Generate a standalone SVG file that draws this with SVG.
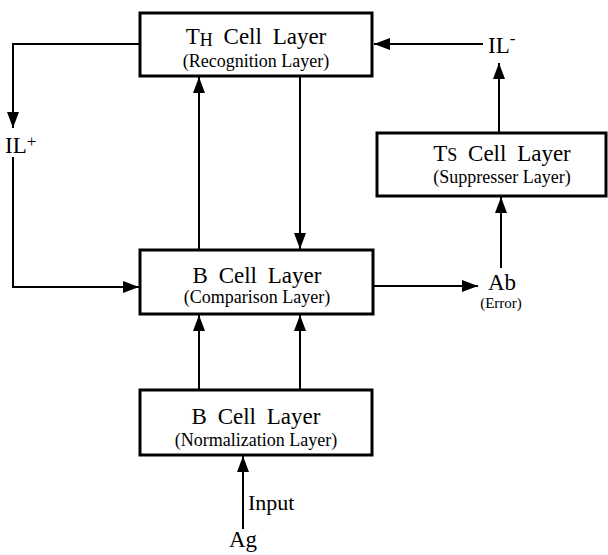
<svg xmlns="http://www.w3.org/2000/svg" width="608" height="555" viewBox="0 0 608 555">
<style>
.box{fill:#fff;stroke:#000;stroke-width:3}
.t{font-family:"Liberation Serif","Times New Roman",serif;fill:#000}
.title{font-size:23px;text-anchor:middle;word-spacing:5px}
.sub{font-size:18px;text-anchor:middle}
.lbl{font-size:23px}
.conn{fill:none;stroke:#000;stroke-width:2}
</style>
<defs>
<marker id="arr" markerUnits="userSpaceOnUse" markerWidth="17" markerHeight="13" refX="16" refY="6.5" orient="auto">
<path d="M0,0.5 L16,6.5 L0,12.5 z" fill="#000"/>
</marker>
</defs>
<rect width="608" height="555" fill="#fff"/>
<g id="connectors">
<path class="conn" d="M140,44 H13 V128" marker-end="url(#arr)"/>
<path class="conn" d="M13,157 V287 H139" marker-end="url(#arr)"/>
<path class="conn" d="M199,250 V77" marker-end="url(#arr)"/>
<path class="conn" d="M300,76 V249" marker-end="url(#arr)"/>
<path class="conn" d="M199,390 V315" marker-end="url(#arr)"/>
<path class="conn" d="M300,390 V315" marker-end="url(#arr)"/>
<path class="conn" d="M243,529 V456" marker-end="url(#arr)"/>
<path class="conn" d="M373,286 H478" marker-end="url(#arr)"/>
<path class="conn" d="M501,268 V197" marker-end="url(#arr)"/>
<path class="conn" d="M499,133 V63" marker-end="url(#arr)"/>
<path class="conn" d="M483,44 H374" marker-end="url(#arr)"/>
</g>
<g id="th">
<rect class="box" x="140" y="13" width="232" height="63"/>
<text class="t title" x="256" y="44">T<tspan font-size="18" dy="2">H</tspan><tspan dy="-2"> Cell Layer</tspan></text>
<text class="t sub" x="256" y="67">(Recognition Layer)</text>
</g>
<g id="ts">
<rect class="box" x="377" y="133" width="229" height="63"/>
<text class="t title" x="502" y="161">T<tspan font-size="18">S</tspan> Cell Layer</text>
<text class="t sub" x="502" y="183">(Suppresser Layer)</text>
</g>
<g id="bcomp">
<rect class="box" x="140" y="250" width="233" height="64"/>
<text class="t title" x="257" y="283">B Cell Layer</text>
<text class="t sub" x="257" y="303">(Comparison Layer)</text>
</g>
<g id="bnorm">
<rect class="box" x="140" y="390" width="232" height="65"/>
<text class="t title" x="256" y="424">B Cell Layer</text>
<text class="t sub" x="256" y="446">(Normalization Layer)</text>
</g>
<g id="ilplus">
<text class="t lbl" x="5" y="153">IL<tspan font-size="17" dy="-6">+</tspan></text>
</g>
<g id="ilminus">
<text class="t lbl" x="488" y="53">IL<tspan font-size="17" dy="-9">-</tspan></text>
</g>
<g id="ab">
<text class="t lbl" x="502" y="290" text-anchor="middle">Ab</text>
<text class="t" x="501" y="308" font-size="15" text-anchor="middle">(Error)</text>
</g>
<g id="input">
<text class="t" x="248" y="510" font-size="22">Input</text>
</g>
<g id="ag">
<text class="t lbl" x="243" y="547" text-anchor="middle">Ag</text>
</g>
</svg>
